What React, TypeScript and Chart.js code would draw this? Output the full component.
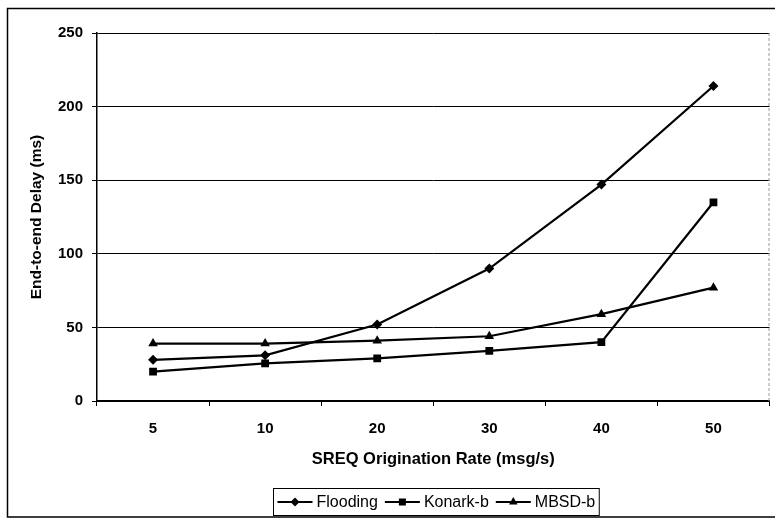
import React, { useEffect, useRef } from "react";
import { Chart, registerables } from "chart.js";

Chart.register(...registerables);

const categories = ["5", "10", "20", "30", "40", "50"];
const flooding = [28, 31, 52, 90, 147, 214];
const konark = [20, 25.5, 29, 34, 40, 135];
const mbsd = [39, 39, 41, 44, 59, 77];
const seriesNames = ["Flooding", "Konark-b", "MBSD-b"];
const yMin = 0;
const yMax = 250;
const yStep = 50;
const xTitle = "SREQ Origination Rate (msg/s)";
const yTitle = "End-to-end Delay (ms)";

const FONT = "'Liberation Sans', Arial, sans-serif";

function drawMarker(ctx: CanvasRenderingContext2D, style: string, x: number, y: number, r: number) {
  ctx.beginPath();
  if (style === "rectRot") {
    ctx.moveTo(x, y - r);
    ctx.lineTo(x + r, y);
    ctx.lineTo(x, y + r);
    ctx.lineTo(x - r, y);
  } else if (style === "rect") {
    const s = r * Math.SQRT1_2;
    ctx.rect(x - s, y - s, 2 * s, 2 * s);
  } else {
    const h = r * 1.5;
    const w = r * 0.866 * 2;
    ctx.moveTo(x, y - h * 0.6667);
    ctx.lineTo(x + w / 2, y + h * 0.3333);
    ctx.lineTo(x - w / 2, y + h * 0.3333);
  }
  ctx.closePath();
  ctx.fill();
}

const framePlugin = {
  id: "frame",
  beforeDraw(chart: any) {
    const ctx = chart.ctx as CanvasRenderingContext2D;
    ctx.save();
    ctx.fillStyle = "#fff";
    ctx.fillRect(0, 0, chart.width, chart.height);
    ctx.restore();
  },
  afterDraw(chart: any) {
    const ctx = chart.ctx as CanvasRenderingContext2D;
    const area = chart.chartArea;
    ctx.save();
    // outer frame
    ctx.strokeStyle = "#000";
    ctx.lineWidth = 1.5;
    ctx.beginPath();
    ctx.moveTo(chart.width + 2, 8.5);
    ctx.lineTo(7.5, 8.5);
    ctx.lineTo(7.5, 517);
    ctx.lineTo(chart.width + 2, 517);
    ctx.stroke();
    // plot area right border
    ctx.strokeStyle = "#999";
    ctx.lineWidth = 1;
    ctx.setLineDash([3, 2]);
    ctx.beginPath();
    ctx.moveTo(area.right - 0.5, area.top);
    ctx.lineTo(area.right - 0.5, area.bottom);
    ctx.stroke();
    ctx.setLineDash([]);

    // legend
    ctx.font = `16px ${FONT}`;
    const symW = 35;
    const gapSym = 4;
    const gapItem = 7;
    const pad = 4;
    const datasets = chart.data.datasets;
    const widths = datasets.map((d: any) => ctx.measureText(d.label).width);
    let total = pad * 2;
    widths.forEach((w: number, i: number) => {
      total += symW + gapSym + w + (i < widths.length - 1 ? gapItem : 0);
    });
    const cx = (area.left + area.right) / 2 + 3;
    const boxL = Math.round(cx - total / 2) + 0.5;
    const boxT = 488.5;
    const boxH = 27;
    ctx.fillStyle = "#fff";
    ctx.fillRect(boxL, boxT, total, boxH);
    ctx.strokeStyle = "#000";
    ctx.lineWidth = 1;
    ctx.strokeRect(boxL, boxT, total, boxH);
    let x = boxL + pad;
    const cy = boxT + boxH / 2;
    datasets.forEach((d: any, i: number) => {
      ctx.strokeStyle = "#000";
      ctx.lineWidth = 2;
      ctx.beginPath();
      ctx.moveTo(x, cy);
      ctx.lineTo(x + symW, cy);
      ctx.stroke();
      ctx.fillStyle = "#000";
      drawMarker(ctx, d.pointStyle, x + symW / 2, cy, d.pointRadius * 0.9);
      x += symW + gapSym;
      ctx.fillStyle = "#000";
      ctx.textBaseline = "middle";
      ctx.textAlign = "left";
      ctx.fillText(d.label, x, cy + 1);
      x += widths[i] + gapItem;
    });
    ctx.restore();
  },
};

export default function App() {
  const ref = useRef<HTMLCanvasElement | null>(null);

  useEffect(() => {
    if (!ref.current) return;
    const mk = (label: string, data: number[], pointStyle: string, r: number) => ({
      label,
      data,
      borderColor: "#000",
      backgroundColor: "#000",
      borderWidth: 2.2,
      pointStyle,
      pointRadius: r,
      pointBorderWidth: 0,
      pointBackgroundColor: "#000",
      pointBorderColor: "#000",
      tension: 0,
      fill: false,
    });
    const chart = new Chart(ref.current, {
      type: "line",
      data: {
        labels: categories,
        datasets: [
          mk(seriesNames[0], flooding, "rectRot", 5),
          mk(seriesNames[1], konark, "rect", 5.5),
          mk(seriesNames[2], mbsd, "triangle", 5.5),
        ] as any,
      },
      options: {
        responsive: false,
        animation: false,
        devicePixelRatio: 1,
        layout: { padding: { left: 0, top: 33, right: 2, bottom: 0 } },
        plugins: {
          legend: { display: false },
          tooltip: { enabled: false },
        },
        scales: {
          x: {
            type: "category",
            offset: true,
            grid: {
              offset: true,
              drawOnChartArea: false,
              drawTicks: true,
              tickLength: 5,
              color: "#000",
              lineWidth: 1,
            },
            border: { display: true, color: "#000", width: 1.5 },
            ticks: {
              color: "#000",
              font: { family: FONT, size: 15, weight: "bold" },
              padding: 14,
              maxRotation: 0,
            },
            title: {
              display: true,
              text: xTitle,
              color: "#000",
              font: { family: FONT, size: 16.5, weight: "bold" },
              padding: { top: 0, bottom: 51 },
            },
            afterFit: (scale: any) => {
              scale.height = 119;
            },
          },
          y: {
            min: yMin,
            max: yMax,
            grid: {
              color: "#000",
              lineWidth: 1,
              tickLength: 5,
              drawTicks: true,
            },
            border: { display: true, color: "#000", width: 1.5 },
            ticks: {
              stepSize: yStep,
              color: "#000",
              font: { family: FONT, size: 15, weight: "bold" },
              padding: 9,
            },
            title: {
              display: true,
              text: yTitle,
              color: "#000",
              font: { family: FONT, size: 15.5, weight: "bold" },
              padding: { top: 27, bottom: 0 },
            },
            afterFit: (scale: any) => {
              scale.width = 97;
            },
          },
        },
      } as any,
      plugins: [framePlugin],
    });
    return () => chart.destroy();
  }, []);

  return (
    <div style={{ position: "absolute", left: 0, top: 0, width: 775, height: 520 }}>
      <canvas ref={ref} width={775} height={520} />
    </div>
  );
}
